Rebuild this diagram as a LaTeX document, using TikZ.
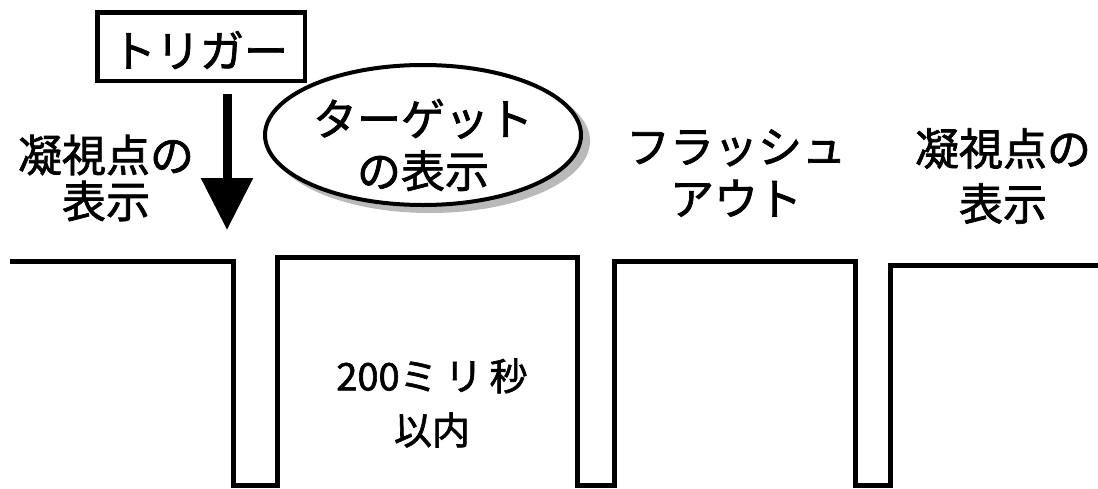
\documentclass[tikz,border=0pt]{standalone}
\usepackage{fontspec}
\newfontfamily\jp[FakeBold=1.6]{Noto Sans CJK JP}
\usetikzlibrary{arrows.meta,shapes.geometric}
\begin{document}
\begin{tikzpicture}[x=1pt,y=-1pt,
  lbl/.style={font=\jp\fontsize{44}{46}\selectfont, align=center, inner sep=0pt},
  wave/.style={line width=5pt, line join=miter},
  trigbox/.style={draw, line width=4.5pt, minimum width=207.5pt, minimum height=68.5pt, inner sep=0pt, font=\jp\fontsize{44}{46}\selectfont},
  bigarrow/.style={line width=9pt, -{Triangle[width=50pt,length=52pt]}},
  shadowell/.style={ellipse, fill=gray!55, minimum width=320pt, minimum height=144pt, inner sep=0pt},
  targetell/.style={ellipse, draw, line width=4pt, fill=white, minimum width=316pt, minimum height=140pt, inner sep=0pt},
  ]
\fill[white] (0,0) rectangle (1098,488);
\useasboundingbox (0,0) rectangle (1098,488);
% trigger
\node[trigbox] (trig) at (201,46.5) {};
\node[lbl] (trigtext) at (200,50) {トリガー};
\coordinate (tip) at (227,230);
\draw[bigarrow, shorten <=11pt] (trig.south -| tip) -- (tip);
% target ellipse
\node[shadowell] (shadow) at (430,141) {};
\node[targetell] (target) at (423,135) {};
\node[lbl, font=\jp\fontsize{44}{52}\selectfont] (targettext) at (423,145) {ターゲット\\の表示};
% labels
\node[lbl] (fix1) at (106,178) {凝視点の\\表示};
\node[lbl, font=\jp\fontsize{44}{52}\selectfont] (flash) at (736,173) {フラッシュ\\アウト};
\node[lbl, font=\jp\fontsize{44}{55}\selectfont] (fix2) at (1003,176) {凝視点の\\表示};
\node[lbl, font=\jp\fontsize{38}{54}\selectfont] (dur) at (432,403) {200ミ\hspace{7pt}リ\hspace{7pt}秒\\以内};
% waveform
\draw[wave] (10,261) -- (233,261) -- (233,485) -- (277,485) -- (277,257)
  -- (577,257) -- (577,485) -- (614,485) -- (614,261) -- (855,261)
  -- (855,485) -- (890,485) -- (890,265) -- (1098,265);
\end{tikzpicture}
\end{document}
